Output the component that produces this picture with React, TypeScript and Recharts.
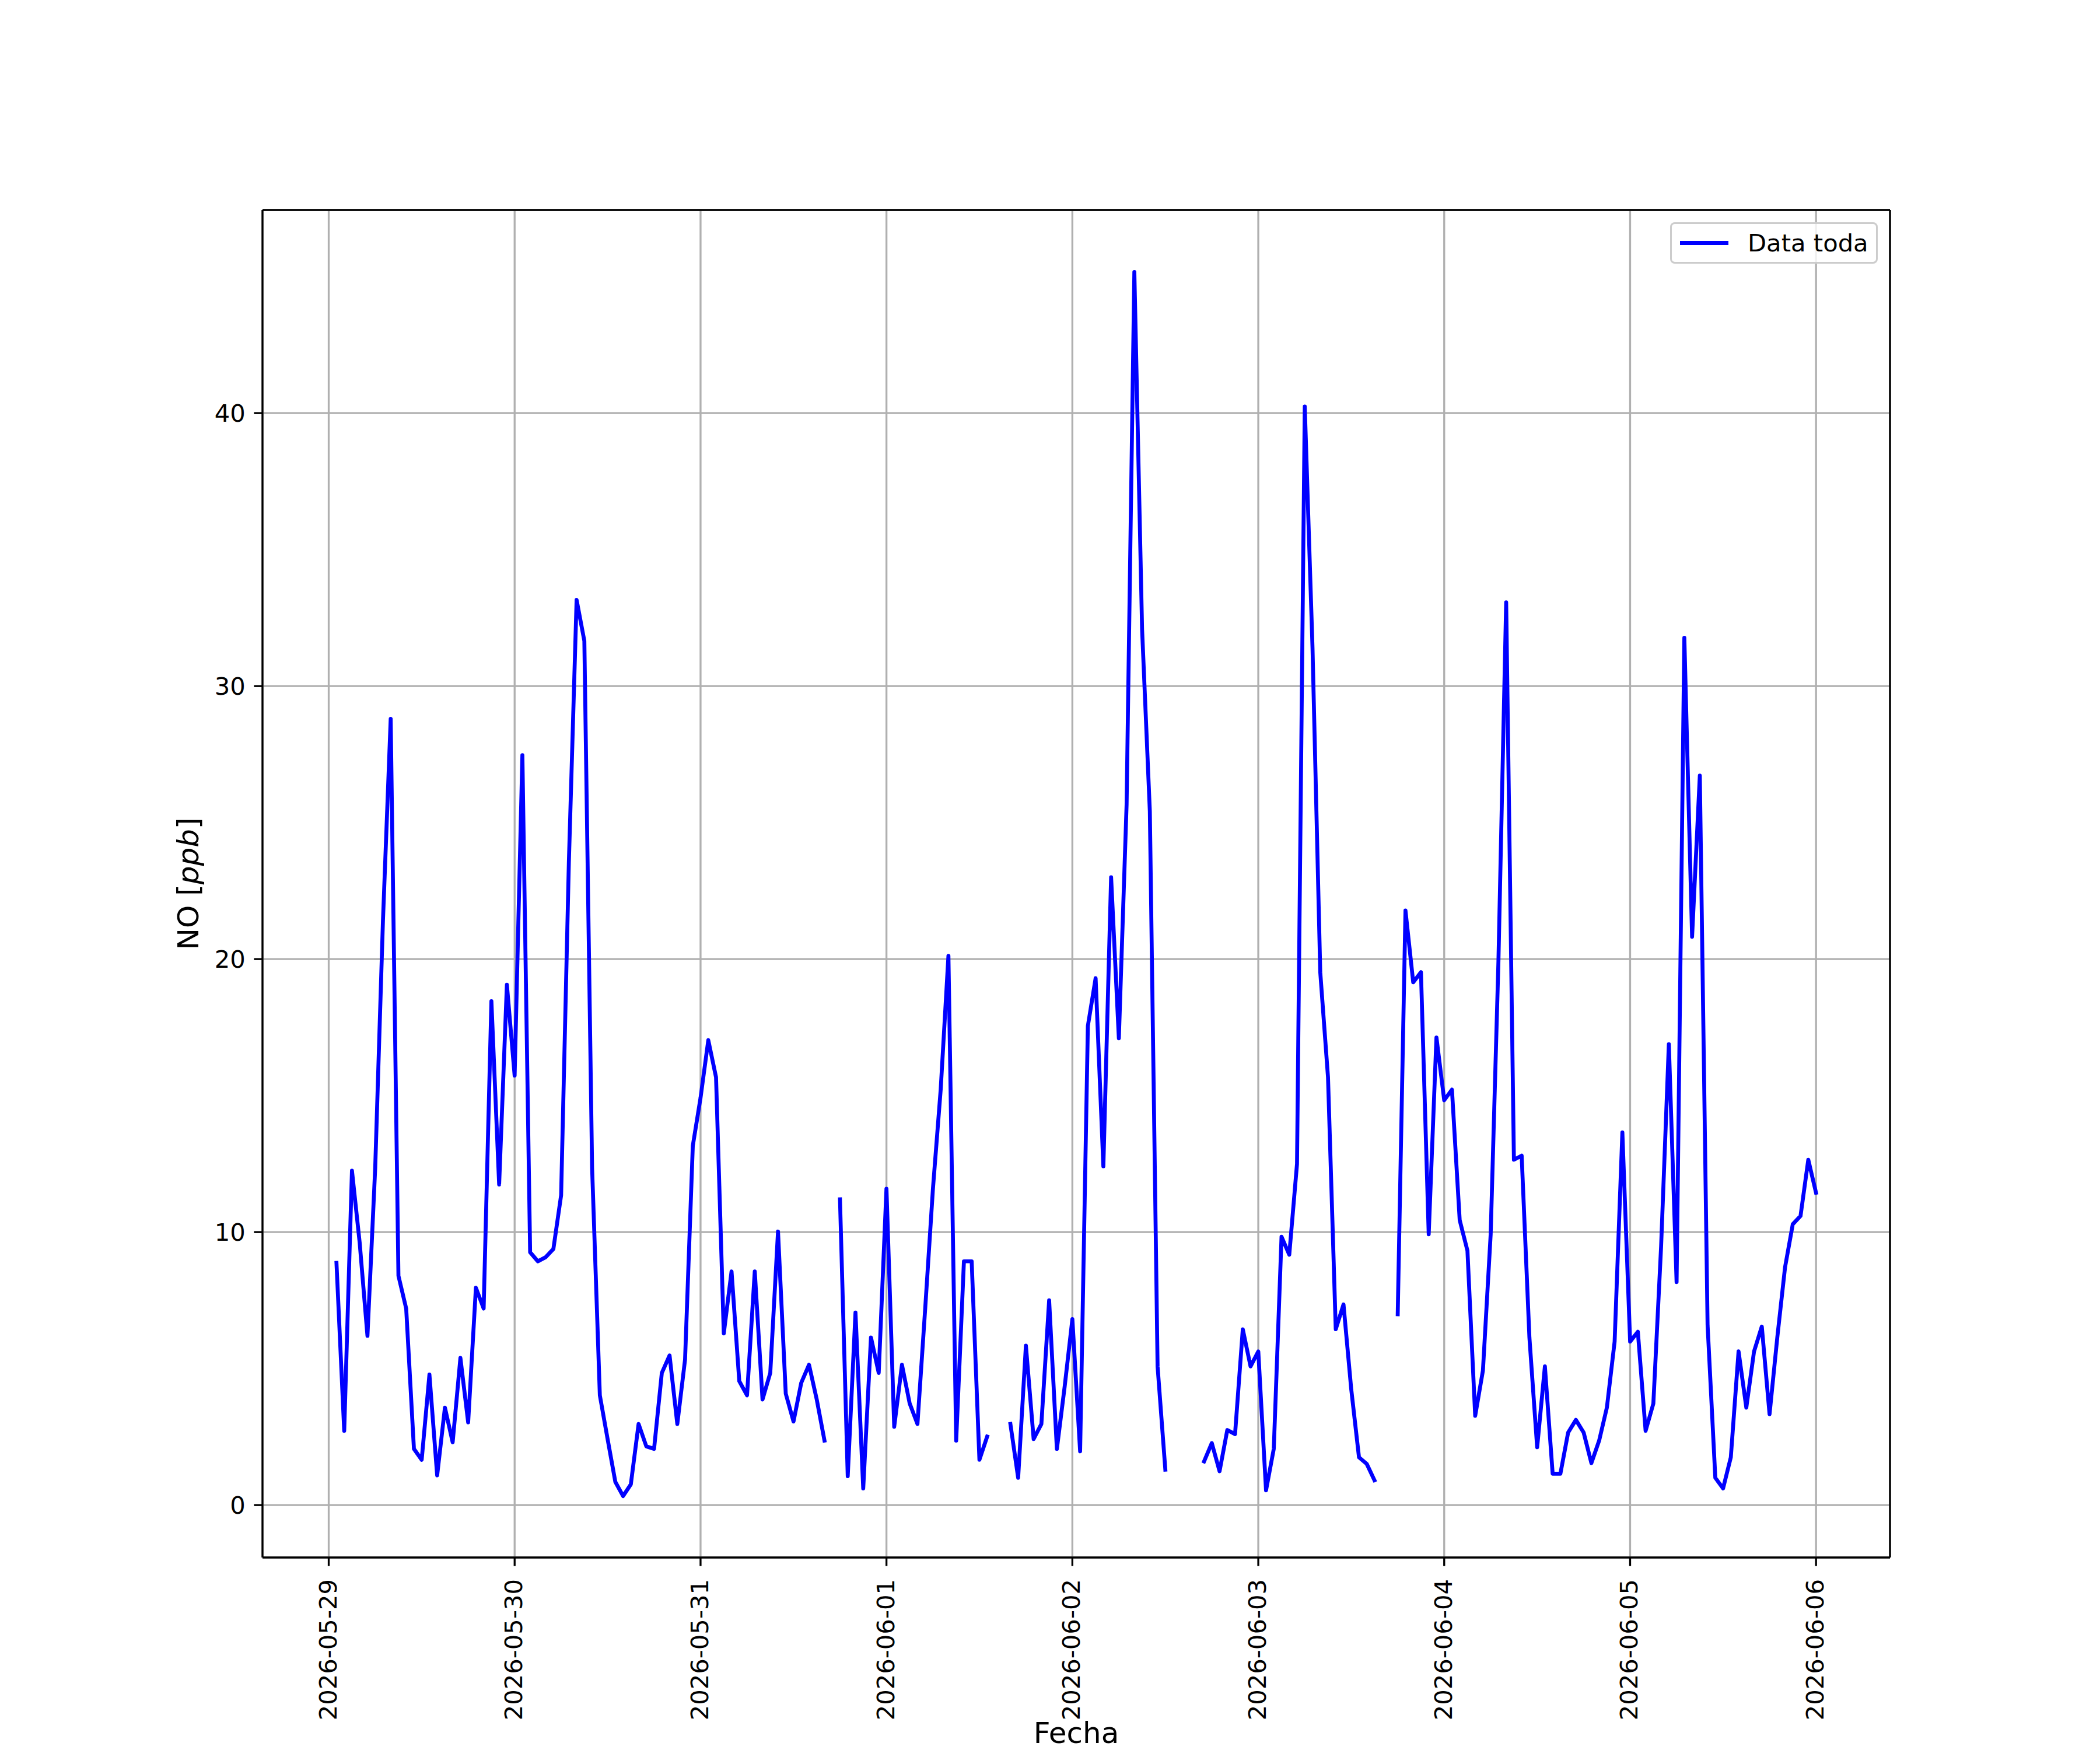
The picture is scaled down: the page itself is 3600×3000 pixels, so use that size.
import React from "react";
import { LineChart, Line, XAxis, YAxis, CartesianGrid, Legend } from "recharts";

// Tick labels (one per day, midnight)
const dayLabels = [
  "2026-05-29", "2026-05-30", "2026-05-31", "2026-06-01", "2026-06-02",
  "2026-06-03", "2026-06-04", "2026-06-05", "2026-06-06",
];
const yTicks = [0, 10, 20, 30, 40];

// Hourly NO [ppb]; null = missing hour. 05-29 starts at 01:00, the rest at 00:00
const no0529 = [8.87, 2.72, 12.25, 9.6, 6.2, 12.35, 21.4, 28.8, 8.4, 7.2, 2.06, 1.66, 4.78, 1.09, 3.57, 2.3, 5.39, 3.03, 7.96, 7.2, 18.46, 11.74, 19.06];
const no0530 = [15.73, 27.47, 9.26, 8.93, 9.08, 9.38, 11.35, 23.54, 33.16, 31.65, 12.35, 4.02, 2.42, 0.85, 0.33, 0.76, 2.97, 2.15, 2.06, 4.84, 5.48, 2.97, 5.33, 13.16];
const no0531 = [14.92, 17.03, 15.67, 6.29, 8.56, 4.54, 4.02, 8.56, 3.87, 4.84, 10.02, 4.08, 3.06, 4.48, 5.14, 3.87, 2.36, null, 11.2, 1.06, 7.05, 0.61, 6.14, 4.84];
const no0601 = [11.59, 2.87, 5.14, 3.72, 2.97, 7.2, 11.59, 15.22, 20.12, 2.36, 8.93, 8.93, 1.66, 2.51, null, null, 2.97, 1.0, 5.84, 2.42, 2.97, 7.5, 2.06, 4.33];
const no0602 = [6.81, 1.97, 17.55, 19.3, 12.41, 23.0, 17.1, 25.66, 45.17, 32.07, 25.42, 5.08, 1.3, null, null, null, null, 1.6, 2.27, 1.24, 2.75, 2.6, 6.44, 5.08];
const no0603 = [5.63, 0.54, 2.06, 9.83, 9.17, 12.5, 40.24, 31.4, 19.52, 15.67, 6.44, 7.35, 4.24, 1.75, 1.51, 0.91, null, null, 6.99, 21.78, 19.15, 19.52, 9.92, 17.13];
const no0604 = [14.83, 15.22, 10.44, 9.32, 3.27, 4.93, 9.92, 19.91, 33.07, 12.65, 12.8, 6.14, 2.12, 5.08, 1.15, 1.15, 2.66, 3.12, 2.66, 1.54, 2.36, 3.57, 5.99, 13.65];
const no0605 = [5.99, 6.35, 2.72, 3.72, 9.47, 16.88, 8.17, 31.77, 20.82, 26.72, 6.6, 1.0, 0.61, 1.75, 5.63, 3.57, 5.63, 6.54, 3.33, 6.14, 8.71, 10.29, 10.59, 12.65];
const no0606 = [11.44];

const byDay = [no0529, no0530, no0531, no0601, no0602, no0603, no0604, no0605, no0606];
const firstHour = [1, 0, 0, 0, 0, 0, 0, 0, 0];

// x = days since 2026-05-29 00:00
const data = byDay.flatMap((vals, d) =>
  vals.map((v, i) => ({ t: d + (firstHour[d] + i) / 24, no: v }))
);
const dayTicks = dayLabels.map((_, i) => i);

// matplotlib-style 5% margins
const X_DOMAIN = [-0.3562, 8.3979];
const Y_DOMAIN = [-1.92, 47.44];

const FONT = "DejaVu Sans";
const TICK_PX = 41.7;
const LABEL_PX = 50;
const SPINE = 3.33;

function DateTick(props: any) {
  const { x, y, payload } = props;
  return (
    <text
      x={x}
      y={y}
      transform={`rotate(-90, ${x}, ${y})`}
      textAnchor="end"
      dy={13}
      fontSize={TICK_PX}
      fontFamily={FONT}
      fill="#000"
    >
      {dayLabels[payload.value]}
    </text>
  );
}

function ValueTick(props: any) {
  const { x, y, payload } = props;
  return (
    <text x={x} y={y} dy={15} textAnchor="end" fontSize={TICK_PX} fontFamily={FONT} fill="#000">
      {payload.value}
    </text>
  );
}

function XLabel() {
  return (
    <text x={1845} y={2988} textAnchor="middle" fontSize={LABEL_PX} fontFamily={FONT} fill="#000">
      Fecha
    </text>
  );
}

function YLabel() {
  return (
    <text
      x={340}
      y={1515}
      transform="rotate(-90, 340, 1515)"
      textAnchor="middle"
      fontSize={LABEL_PX}
      fontFamily={FONT}
      fill="#000"
    >
      NO [<tspan fontStyle="italic">ppb</tspan>]
    </text>
  );
}

function LegendBox() {
  return (
    <div
      style={{
        width: 356,
        height: 71,
        boxSizing: "border-box",
        border: "3px solid #cccccc",
        borderRadius: 8,
        background: "rgba(255,255,255,0.8)",
        display: "flex",
        alignItems: "center",
        fontFamily: FONT,
        fontSize: TICK_PX,
        color: "#000",
      }}
    >
      <div style={{ marginLeft: 14, width: 83, height: 6.7, background: "#0000ff" }} />
      <span style={{ marginLeft: 33, whiteSpace: "nowrap" }}>Data toda</span>
    </div>
  );
}

export default function App() {
  const tickLine = { stroke: "#000", strokeWidth: SPINE };
  const spine = { stroke: "#000", strokeWidth: SPINE };
  return (
    <div style={{ position: "absolute", left: 0, top: 0, width: 3600, height: 3000, background: "#fff", fontFamily: FONT }}>
      <LineChart
        width={3600}
        height={3000}
        data={data}
        margin={{ top: 0, right: 0, bottom: 0, left: 0 }}
      >
        <CartesianGrid stroke="#b0b0b0" strokeWidth={SPINE} />
        <XAxis
          dataKey="t"
          type="number"
          domain={X_DOMAIN}
          allowDataOverflow
          ticks={dayTicks}
          interval={0}
          height={330}
          axisLine={spine}
          tickLine={tickLine}
          tickSize={14.6}
          tickMargin={22.4}
          tick={<DateTick />}
          label={<XLabel />}
        />
        <YAxis
          type="number"
          domain={Y_DOMAIN}
          allowDataOverflow
          ticks={yTicks}
          interval={0}
          width={450}
          axisLine={spine}
          tickLine={tickLine}
          tickSize={14.6}
          tickMargin={14.6}
          tick={<ValueTick />}
          label={<YLabel />}
        />
        <XAxis
          xAxisId="top"
          orientation="top"
          dataKey="t"
          type="number"
          domain={X_DOMAIN}
          allowDataOverflow
          height={360}
          tick={false}
          tickLine={false}
          axisLine={spine}
        />
        <YAxis
          yAxisId="right"
          orientation="right"
          type="number"
          domain={Y_DOMAIN}
          allowDataOverflow
          width={360}
          tick={false}
          tickLine={false}
          axisLine={spine}
        />
        <Line
          dataKey="no"
          type="linear"
          stroke="#0000ff"
          strokeWidth={6.7}
          strokeLinejoin="round"
          strokeLinecap="square"
          dot={false}
          activeDot={false}
          connectNulls={false}
          isAnimationActive={false}
        />
        <Legend
          layout="vertical"
          align="center"
          verticalAlign="middle"
          wrapperStyle={{ top: 381, left: 2863, width: 356, height: 71 }}
          content={<LegendBox />}
        />
      </LineChart>
    </div>
  );
}
